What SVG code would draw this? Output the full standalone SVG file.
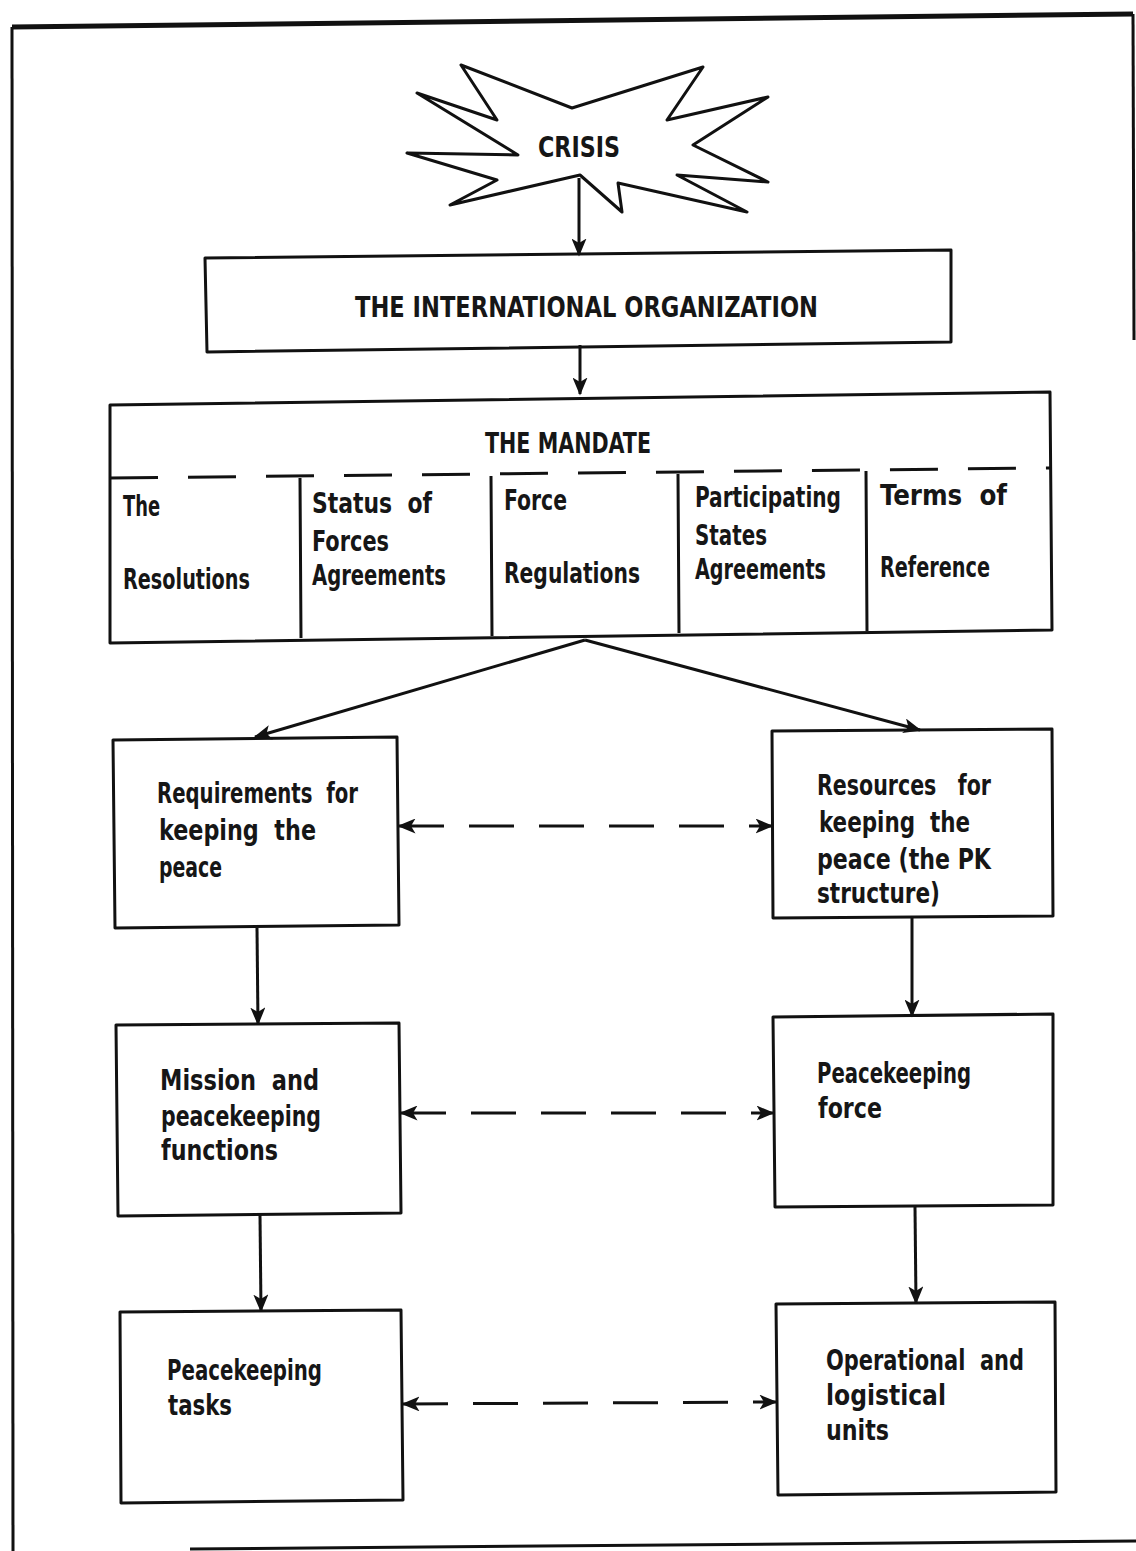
<svg xmlns="http://www.w3.org/2000/svg" width="1136" height="1551" viewBox="0 0 1136 1551">
<style>
.b{fill:#fff;stroke:#111;stroke-width:3;stroke-linejoin:round}
.t{font-family:"DejaVu Sans Condensed","DejaVu Sans","Liberation Sans",sans-serif;font-stretch:condensed;font-weight:bold;font-size:28px;fill:#161616}
.c{fill:none;stroke:#111;stroke-width:3}
.d{stroke-dasharray:45 25}
</style>
<defs>
<marker id="ah" viewBox="0 0 12 10" refX="11" refY="5" markerWidth="6" markerHeight="5" orient="auto" markerUnits="strokeWidth">
<path d="M0,0 L12,5 L0,10 L3,5 z" fill="#111"/>
</marker>
<marker id="as" viewBox="0 0 12 10" refX="1" refY="5" markerWidth="6" markerHeight="5" orient="auto" markerUnits="strokeWidth">
<path d="M12,0 L0,5 L12,10 L9,5 z" fill="#111"/>
</marker>
</defs>
<rect width="1136" height="1551" fill="#fff"/>
<g id="frame" fill="none" stroke="#111">
<path d="M12,27 L1133,14" stroke-width="5"/>
<path d="M12,27 L13,1551" stroke-width="3"/>
<path d="M1133,14 L1134,340" stroke-width="3"/>
<path d="M190,1549 L1136,1541" stroke-width="3"/>
</g>
<g id="crisis">
<polygon class="b" points="572,108 703,67 667,120 768,97 693,145 768,182 677,175 747,212 618,183 622,212 580,175 450,205 497,180 407,153 518,155 417,93 497,120 461,65"/>
<text class="t" x="538" y="157" textLength="82" lengthAdjust="spacingAndGlyphs">CRISIS</text>
</g>
<g id="intorg">
<polygon class="b" points="205,258 951,250 951,342 207,352"/>
<text class="t" x="355" y="317" textLength="463" lengthAdjust="spacingAndGlyphs">THE INTERNATIONAL ORGANIZATION</text>
</g>
<g id="mandate">
<polygon class="b" points="110,405 1050,392 1052,630 110,643"/>
<path class="c" d="M110,478 L1050,468" stroke-dasharray="48 30"/>
<path class="c" d="M300,478 L301,638 M491,476 L492,636 M678,474 L679,633 M866,471 L867,631"/>
<text class="t" x="485" y="453" textLength="166" lengthAdjust="spacingAndGlyphs">THE MANDATE</text>
<text class="t" x="123" y="516" textLength="37" lengthAdjust="spacingAndGlyphs">The</text>
<text class="t" x="123" y="589" textLength="127" lengthAdjust="spacingAndGlyphs">Resolutions</text>
<text class="t" x="312" y="513" textLength="120" lengthAdjust="spacingAndGlyphs" xml:space="preserve">Status  of</text>
<text class="t" x="312" y="551" textLength="77" lengthAdjust="spacingAndGlyphs">Forces</text>
<text class="t" x="312" y="585" textLength="134" lengthAdjust="spacingAndGlyphs">Agreements</text>
<text class="t" x="504" y="510" textLength="63" lengthAdjust="spacingAndGlyphs">Force</text>
<text class="t" x="504" y="583" textLength="136" lengthAdjust="spacingAndGlyphs">Regulations</text>
<text class="t" x="695" y="507" textLength="146" lengthAdjust="spacingAndGlyphs">Participating</text>
<text class="t" x="695" y="545" textLength="72" lengthAdjust="spacingAndGlyphs">States</text>
<text class="t" x="695" y="579" textLength="131" lengthAdjust="spacingAndGlyphs">Agreements</text>
<text class="t" x="880" y="505" textLength="127" lengthAdjust="spacingAndGlyphs" xml:space="preserve">Terms  of</text>
<text class="t" x="880" y="577" textLength="110" lengthAdjust="spacingAndGlyphs">Reference</text>
</g>
<g id="requirements">
<polygon class="b" points="113,740 397,737 399,925 115,928"/>
<text class="t" x="157" y="803" textLength="201" lengthAdjust="spacingAndGlyphs" xml:space="preserve">Requirements  for</text>
<text class="t" x="159" y="840" textLength="157" lengthAdjust="spacingAndGlyphs" xml:space="preserve">keeping  the</text>
<text class="t" x="159" y="877" textLength="63" lengthAdjust="spacingAndGlyphs">peace</text>
</g>
<g id="resources">
<polygon class="b" points="772,731 1052,729 1053,916 773,918"/>
<text class="t" x="817" y="795" textLength="174" lengthAdjust="spacingAndGlyphs" xml:space="preserve">Resources   for</text>
<text class="t" x="819" y="832" textLength="151" lengthAdjust="spacingAndGlyphs" xml:space="preserve">keeping  the</text>
<text class="t" x="817" y="869" textLength="174" lengthAdjust="spacingAndGlyphs">peace (the PK</text>
<text class="t" x="817" y="903" textLength="123" lengthAdjust="spacingAndGlyphs">structure)</text>
</g>
<g id="mission">
<polygon class="b" points="116,1025 399,1023 401,1213 118,1216"/>
<text class="t" x="160" y="1090" textLength="159" lengthAdjust="spacingAndGlyphs" xml:space="preserve">Mission  and</text>
<text class="t" x="161" y="1126" textLength="160" lengthAdjust="spacingAndGlyphs">peacekeeping</text>
<text class="t" x="161" y="1160" textLength="117" lengthAdjust="spacingAndGlyphs">functions</text>
</g>
<g id="force">
<polygon class="b" points="773,1017 1053,1014 1053,1205 775,1207"/>
<text class="t" x="817" y="1083" textLength="154" lengthAdjust="spacingAndGlyphs">Peacekeeping</text>
<text class="t" x="818" y="1118" textLength="64" lengthAdjust="spacingAndGlyphs">force</text>
</g>
<g id="tasks">
<polygon class="b" points="120,1312 401,1310 403,1500 121,1503"/>
<text class="t" x="167" y="1380" textLength="155" lengthAdjust="spacingAndGlyphs">Peacekeeping</text>
<text class="t" x="168" y="1415" textLength="64" lengthAdjust="spacingAndGlyphs">tasks</text>
</g>
<g id="units">
<polygon class="b" points="776,1304 1055,1302 1056,1492 778,1495" stroke-width="4"/>
<text class="t" x="826" y="1370" textLength="198" lengthAdjust="spacingAndGlyphs" xml:space="preserve">Operational  and</text>
<text class="t" x="826" y="1405" textLength="120" lengthAdjust="spacingAndGlyphs">logistical</text>
<text class="t" x="826" y="1440" textLength="63" lengthAdjust="spacingAndGlyphs">units</text>
</g>
<g id="connectors">
<path class="c" d="M579,178 L579,255" marker-end="url(#ah)"/>
<path class="c" d="M580,345 L580,394" marker-end="url(#ah)"/>
<path class="c" d="M585,640 L255,737" marker-end="url(#ah)"/>
<path class="c" d="M585,640 L920,730" marker-end="url(#ah)"/>
<path class="c d" d="M399,826 L772,826" marker-start="url(#as)" marker-end="url(#ah)"/>
<path class="c d" d="M401,1113 L773,1113" marker-start="url(#as)" marker-end="url(#ah)"/>
<path class="c d" d="M403,1404 L776,1402" marker-start="url(#as)" marker-end="url(#ah)"/>
<path class="c" d="M257,928 L258,1024" marker-end="url(#ah)"/>
<path class="c" d="M912,918 L912,1016" marker-end="url(#ah)"/>
<path class="c" d="M260,1215 L261,1311" marker-end="url(#ah)"/>
<path class="c" d="M915,1207 L916,1303" marker-end="url(#ah)"/>
</g>
</svg>
